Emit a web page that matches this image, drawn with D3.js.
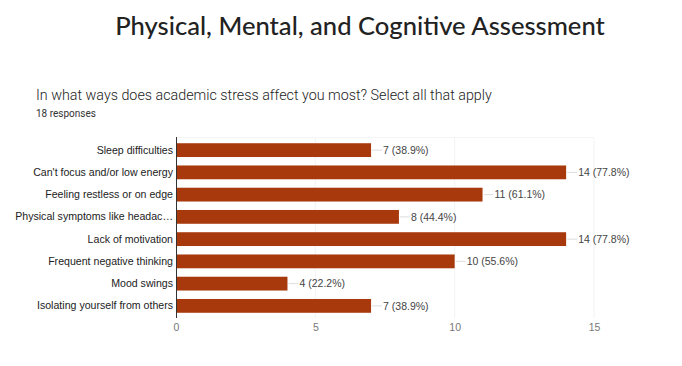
<!DOCTYPE html>
<html lang="en">
<head>
    <meta charset="UTF-8">
    <script src="https://d3js.org/d3.v7.min.js"></script>
    <title>Physical, Mental, and Cognitive Assessment</title>
    <style>
        body { margin: 0; background: #fff; }
    </style>
</head>
<body>
    <script>
        var w = 682;
        var h = 366;

        var categories = ["Sleep difficulties", "Can't focus and/or low energy", "Feeling restless or on edge",
            "Physical symptoms like headac\u2026", "Lack of motivation", "Frequent negative thinking",
            "Mood swings", "Isolating yourself from others"];
        var counts = [7, 14, 11, 8, 14, 10, 4, 7];
        var totalResponses = 18;
        var xTicks = [0, 5, 10, 15];

        var svg = d3.select("body")
                    .append("svg")
                    .attr("width", w)
                    .attr("height", h);

        svg.append("text")
            .attr("x", 360)
            .attr("y", 35)
            .attr("text-anchor", "middle")
            .style("font-family", "Lato")
            .style("font-size", "25.6px")
            .style("font-weight", "500")
            .style("fill", "#222")
            .text("Physical, Mental, and Cognitive Assessment");

        svg.append("text")
            .attr("x", 36)
            .attr("y", 100)
            .style("font-family", "Roboto")
            .style("font-size", "14.3px")
            .style("font-weight", "300")
            .style("fill", "#222")
            .text("In what ways does academic stress affect you most? Select all that apply");

        svg.append("text")
            .attr("x", 36)
            .attr("y", 117)
            .style("font-family", "Roboto")
            .style("font-size", "10px")
            .style("fill", "#333")
            .text(totalResponses + " responses");

        var x = d3.scaleLinear().domain([0, 15]).range([176, 594]);
        var y = d3.scaleBand().domain(categories).range([139, 317]).paddingInner(0.38).paddingOuter(0.19);

        // light gridlines
        svg.selectAll("line.grid")
            .data(xTicks.slice(1))
            .enter()
            .append("line")
            .attr("class", "grid")
            .attr("x1", function(d) { return x(d); })
            .attr("x2", function(d) { return x(d); })
            .attr("y1", 137)
            .attr("y2", 318)
            .attr("stroke", "#f3f3f3");

        svg.append("line")
            .attr("x1", 176).attr("x2", 594)
            .attr("y1", 137.5).attr("y2", 137.5)
            .attr("stroke", "#f5f5f5");

        svg.selectAll("rect.bar")
            .data(counts)
            .enter()
            .append("rect")
            .attr("class", "bar")
            .attr("x", x(0))
            .attr("y", function(d, i) { return y(categories[i]); })
            .attr("width", function(d) { return x(d) - x(0); })
            .attr("height", y.bandwidth())
            .attr("fill", "#a8390c");

        // leader lines
        svg.selectAll("line.lead")
            .data(counts)
            .enter()
            .append("line")
            .attr("class", "lead")
            .attr("x1", function(d) { return x(d) + 1; })
            .attr("x2", function(d) { return x(d) + 11; })
            .attr("y1", function(d, i) { return y(categories[i]) + y.bandwidth() / 2; })
            .attr("y2", function(d, i) { return y(categories[i]) + y.bandwidth() / 2; })
            .attr("stroke", "#ddd");

        svg.selectAll("text.val")
            .data(counts)
            .enter()
            .append("text")
            .attr("class", "val")
            .attr("x", function(d) { return x(d) + 12; })
            .attr("y", function(d, i) { return y(categories[i]) + y.bandwidth() / 2; })
            .attr("dy", "0.35em")
            .style("font-family", "Arial, 'Liberation Sans'")
            .style("font-size", "10.5px")
            .style("fill", "#444")
            .text(function(d) { return d + " (" + (d / totalResponses * 100).toFixed(1) + "%)"; });

        var yAxis = d3.axisLeft(y).tickSize(0).tickPadding(3);
        var gy = svg.append("g")
            .attr("transform", "translate(176,0)")
            .call(yAxis);
        gy.select(".domain").remove();
        gy.selectAll("text")
            .style("font-family", "Arial, 'Liberation Sans'")
            .style("font-size", "10.6px")
            .style("fill", "#222");

        svg.append("line")
            .attr("x1", 176.5).attr("x2", 176.5)
            .attr("y1", 137).attr("y2", 318)
            .attr("stroke", "#333");

        var xAxis = d3.axisBottom(x).tickValues(xTicks).tickSize(0).tickPadding(0);
        var gx = svg.append("g")
            .attr("transform", "translate(0,324)")
            .call(xAxis);
        gx.select(".domain").remove();
        gx.selectAll("text")
            .style("font-family", "Arial, 'Liberation Sans'")
            .style("font-size", "10.5px")
            .style("fill", "#777");
    </script>
</body>
</html>
